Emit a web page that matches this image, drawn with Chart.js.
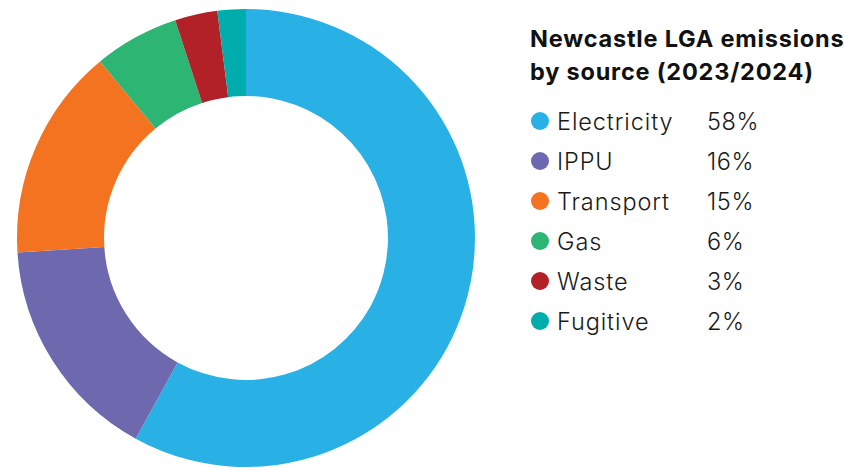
<!DOCTYPE html>
<html>
<head>
<meta charset="utf-8">
<script src="https://cdn.jsdelivr.net/npm/chart.js@4"></script>
<style>
body{margin:0;background:#fff;width:844px;height:468px;overflow:hidden;position:relative;font-family:Inter,"Open Sans",sans-serif;}
#wrap{position:absolute;left:0;top:0;width:492px;height:468px;}
#legend{position:absolute;left:530px;top:22px;color:#111;}
#legend h2{margin:0 0 13.5px 0;font-size:23.5px;font-weight:700;line-height:33px;letter-spacing:0.8px;white-space:nowrap;}
.row{position:relative;height:40px;line-height:40px;font-size:23.5px;font-weight:300;color:#1a1a1a;}
.dot{position:absolute;left:1px;top:10px;width:18px;height:18px;border-radius:50%;}
.lab{position:absolute;left:27px;top:0;letter-spacing:0.9px;}
.pct{position:absolute;left:177px;top:0;letter-spacing:0.6px;}
</style>
</head>
<body>
<div id="wrap"><canvas id="donut" width="492" height="468"></canvas></div>
<div id="legend"></div>
<script>
const title=["Newcastle LGA emissions","by source (2023/2024)"];
const sources=["Electricity","IPPU","Transport","Gas","Waste","Fugitive"];
const shares=[58,16,15,6,3,2];
const colors=["#29b1e5","#6e69af","#f37321","#2db574","#b22028","#00acac"];

/* LEGEND */

const legend=document.getElementById("legend");
let html="<h2>"+title.join("<br>")+"</h2>";
sources.forEach((s,i)=>{
html+='<div class="row"><span class="dot" style="background:'+colors[i]+'"></span>'
+'<span class="lab">'+s+'</span><span class="pct">'+shares[i]+'%</span></div>';
});
legend.innerHTML=html;

/* CHART */

new Chart(document.getElementById("donut"),{
type:"doughnut",
data:{
labels:sources,
datasets:[{
data:shares,
backgroundColor:colors,
borderWidth:0
}]
},
options:{
responsive:false,
animation:false,
cutout:"62%",
layout:{padding:{top:9,bottom:1}},
plugins:{legend:{display:false},tooltip:{enabled:false}}
}
});
</script>
</body>
</html>
